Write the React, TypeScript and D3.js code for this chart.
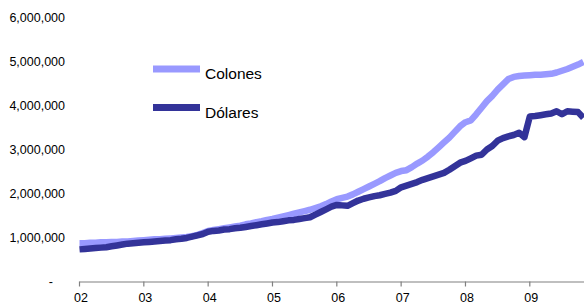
import React from "react";
import * as d3 from "d3";

// Monthly series, Jan 2002 onward
const colones: number[] = [
  0.87, 0.87, 0.88, 0.88, 0.89, 0.89, 0.90, 0.90, 0.91, 0.91, 0.92, 0.93,
  0.94, 0.95, 0.96, 0.96, 0.97, 0.98, 0.99, 1.00, 1.01, 1.03, 1.06, 1.10,
  1.15, 1.17, 1.19, 1.21, 1.23, 1.25, 1.27, 1.30, 1.32, 1.35, 1.37, 1.40,
  1.42, 1.45, 1.48, 1.51, 1.54, 1.57, 1.60, 1.63, 1.67, 1.71, 1.76, 1.82,
  1.87, 1.90, 1.93, 1.98, 2.04, 2.10, 2.16, 2.22, 2.28, 2.35, 2.41, 2.47,
  2.51, 2.53, 2.60, 2.68, 2.75, 2.84, 2.94, 3.05, 3.16, 3.27, 3.40, 3.53,
  3.62, 3.66, 3.80, 3.95, 4.10, 4.22, 4.36, 4.48, 4.60, 4.65, 4.67, 4.68,
  4.69, 4.70, 4.70, 4.71, 4.72, 4.75, 4.79, 4.83, 4.88, 4.93, 4.99,
].map((v) => v * 1e6);

const dolares: number[] = [
  0.73, 0.74, 0.75, 0.76, 0.77, 0.78, 0.80, 0.82, 0.84, 0.86, 0.87, 0.88,
  0.89, 0.90, 0.91, 0.92, 0.93, 0.94, 0.96, 0.97, 0.99, 1.02, 1.05, 1.08,
  1.13, 1.15, 1.16, 1.18, 1.19, 1.21, 1.22, 1.24, 1.26, 1.28, 1.30, 1.32,
  1.34, 1.35, 1.37, 1.39, 1.40, 1.42, 1.44, 1.46, 1.52, 1.58, 1.64, 1.70,
  1.74, 1.73, 1.72, 1.78, 1.84, 1.88, 1.91, 1.94, 1.96, 1.99, 2.02, 2.06,
  2.14, 2.18, 2.22, 2.26, 2.31, 2.35, 2.39, 2.43, 2.47, 2.54, 2.62, 2.70,
  2.74, 2.80, 2.86, 2.88, 3.00, 3.08, 3.20, 3.26, 3.30, 3.33, 3.38, 3.28,
  3.75, 3.76, 3.78, 3.80, 3.82, 3.87, 3.80, 3.87, 3.86, 3.85, 3.72,
].map((v) => v * 1e6);

const yTicks: number[] = [0, 1e6, 2e6, 3e6, 4e6, 5e6, 6e6];
const xTickLabels: string[] = ["02", "03", "04", "05", "06", "07", "08", "09"];
const seriesNames: string[] = ["Colones", "Dólares"];
const seriesColors: string[] = ["#9999FF", "#333399"];

const W = 584;
const H = 306;
const FONT = "'Liberation Sans', Arial, sans-serif";

export default function App() {
  const x = d3.scaleLinear().domain([0, 84]).range([79.5, 529.8]);
  const y = d3.scaleLinear().domain([0, 6e6]).range([281.5, 17.5]);

  const line = d3
    .line<number>()
    .x((_, i) => x(i))
    .y((d) => y(d));

  const fmt = (v: number) => (v === 0 ? "-" : d3.format(",")(v));
  const series = [colones, dolares];

  return (
    <svg
      width={W}
      height={H}
      style={{ position: "fixed", left: 0, top: 0, background: "#fff" }}
      fontFamily={FONT}
    >
      <rect x={0} y={0} width={W} height={H} fill="#fff" />
      {/* Y labels */}
      {yTicks.map((t) => (
        <text
          key={t}
          x={t === 0 ? 53 : 65}
          y={y(t)}
          dy="0.35em"
          textAnchor="end"
          fontSize={12.5}
          fill="#000"
        >
          {fmt(t)}
        </text>
      ))}
      {/* X axis */}
      <line x1={x(0)} x2={W} y1={y(0) + 0.5} y2={y(0) + 0.5} stroke="#808080" strokeWidth={1.2} />
      {xTickLabels.map((lab, k) => (
        <g key={lab} transform={`translate(${x(k * 12)},0)`}>
          <line y1={y(0)} y2={y(0) + 5} stroke="#808080" strokeWidth={1.2} />
          <text x={1.5} y={y(0) + 20} textAnchor="middle" fontSize={12.5} fill="#000">
            {lab}
          </text>
        </g>
      ))}
      {/* Lines */}
      {series.map((s, k) => (
        <path
          key={seriesNames[k]}
          d={line(s) || ""}
          fill="none"
          stroke={seriesColors[k]}
          strokeWidth={6.5}
          strokeLinejoin="round"
        />
      ))}
      {/* Legend */}
      {seriesNames.map((n, k) => (
        <g key={n} transform={`translate(0,${69 + k * 38.5})`}>
          <line x1={153} x2={200} y1={0} y2={0} stroke={seriesColors[k]} strokeWidth={7} />
          <text x={205} y={10} fontSize={15.5} fill="#000">
            {n}
          </text>
        </g>
      ))}
    </svg>
  );
}
